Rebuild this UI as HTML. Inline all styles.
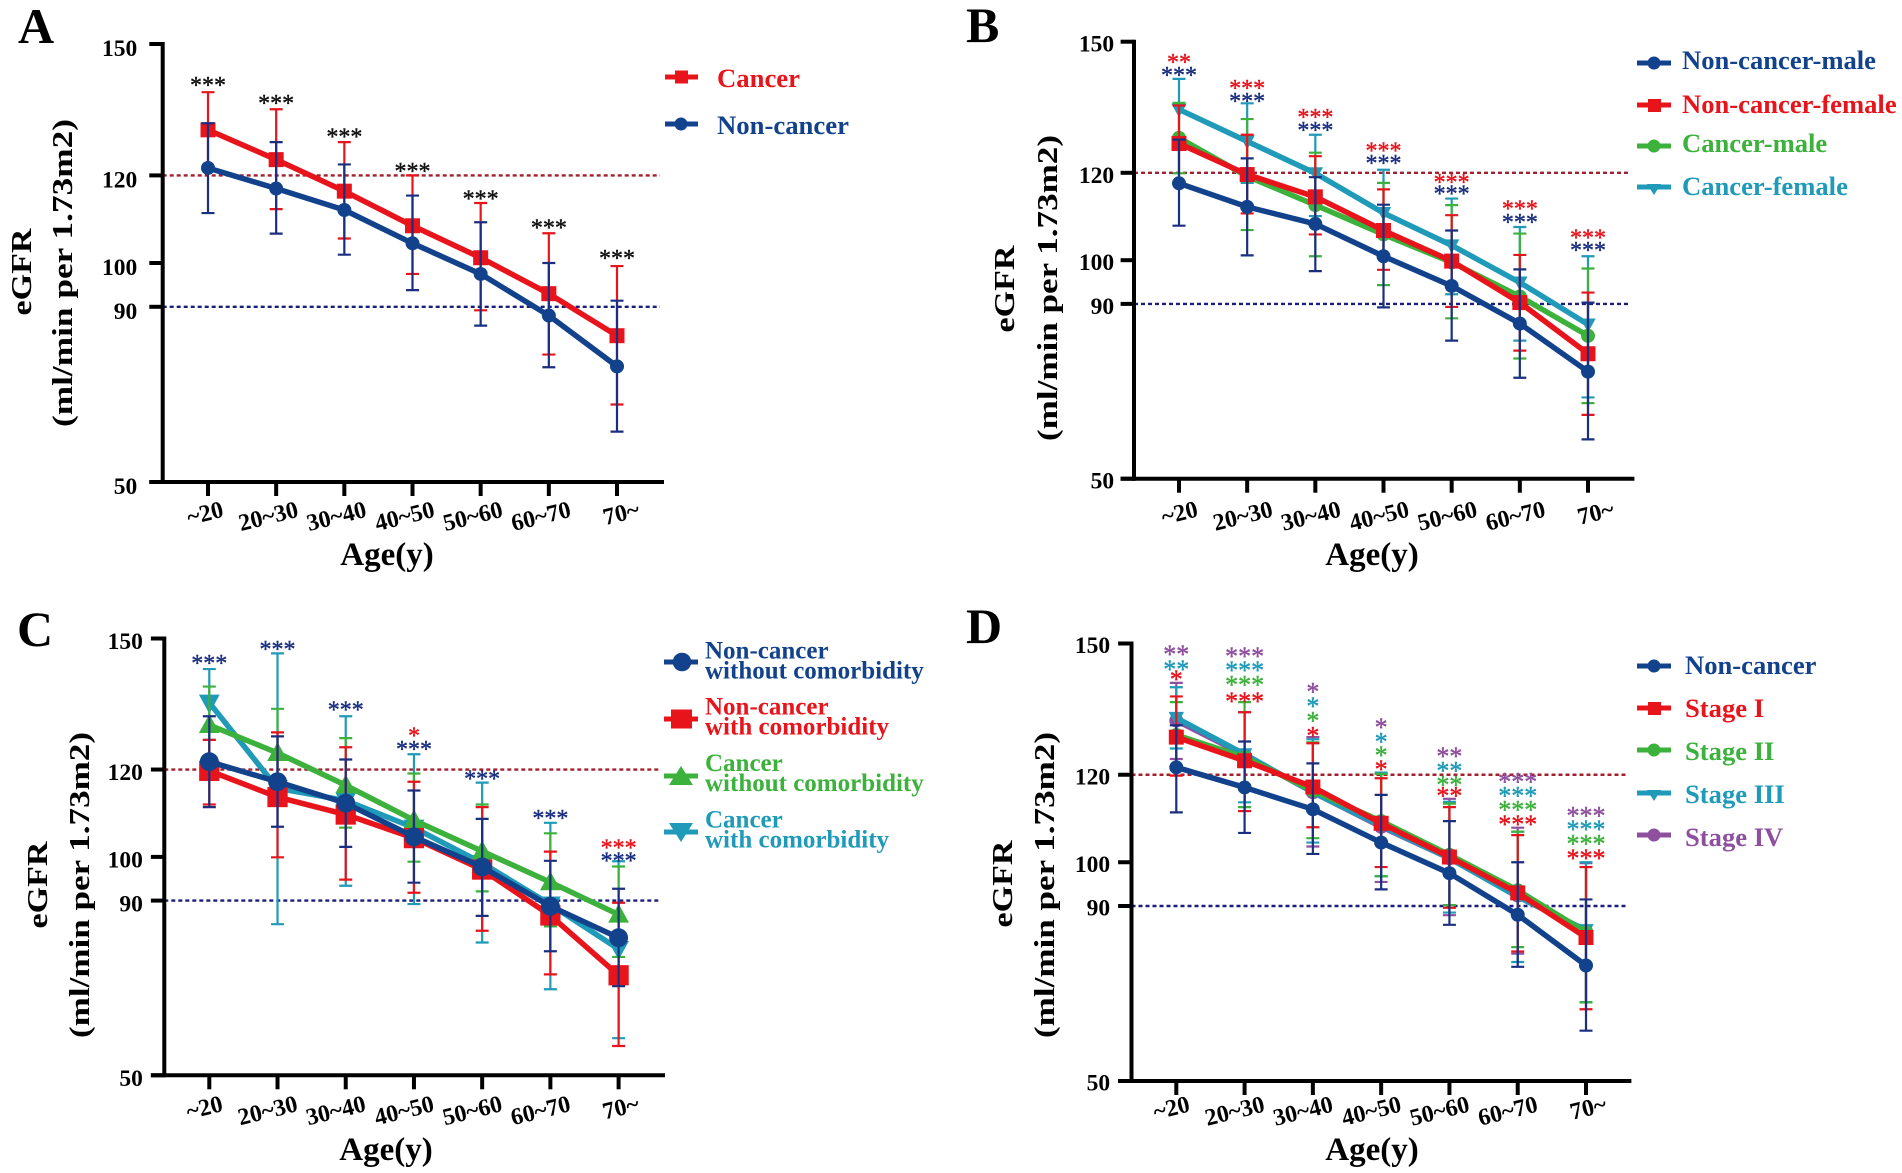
<!DOCTYPE html>
<html lang="en">
<head>
<meta charset="utf-8">
<title>eGFR by age</title>
<style>
html,body{margin:0;padding:0;background:#fff;}
svg{display:block;font-family:"Liberation Serif",serif;font-weight:bold;filter:blur(0.35px);}
</style>
</head>
<body>
<svg id="figure" xmlns="http://www.w3.org/2000/svg" width="1902" height="1173" viewBox="0 0 1902 1173">
  <rect width="1902" height="1173" fill="#fff"/>

  <text x="18" y="43" font-size="50" fill="#000">A</text>
  <text x="966" y="42" font-size="50" fill="#000">B</text>
  <text x="17" y="646" font-size="50" fill="#000">C</text>
  <text x="966" y="643" font-size="50" fill="#000">D</text>

  <g font-size="29" fill="#000" text-anchor="middle">
    <text transform="translate(31 272) rotate(-90)" textLength="87" lengthAdjust="spacingAndGlyphs">eGFR</text>
    <text transform="translate(72 273) rotate(-90)" textLength="308" lengthAdjust="spacingAndGlyphs">(ml/min per 1.73m2)</text>
    <text transform="translate(1014 289) rotate(-90)" textLength="87" lengthAdjust="spacingAndGlyphs">eGFR</text>
    <text transform="translate(1057 288) rotate(-90)" textLength="306" lengthAdjust="spacingAndGlyphs">(ml/min per 1.73m2)</text>
    <text transform="translate(47 885) rotate(-90)" textLength="87" lengthAdjust="spacingAndGlyphs">eGFR</text>
    <text transform="translate(89 885) rotate(-90)" textLength="306" lengthAdjust="spacingAndGlyphs">(ml/min per 1.73m2)</text>
    <text transform="translate(1012 884) rotate(-90)" textLength="87" lengthAdjust="spacingAndGlyphs">eGFR</text>
    <text transform="translate(1054 885) rotate(-90)" textLength="306" lengthAdjust="spacingAndGlyphs">(ml/min per 1.73m2)</text>
  </g>

  <g font-size="33" fill="#000" text-anchor="middle">
    <text x="387" y="565">Age(y)</text>
    <text x="1372" y="565">Age(y)</text>
    <text x="386" y="1160">Age(y)</text>
    <text x="1372" y="1160">Age(y)</text>
  </g>

  <g font-size="26.7">
    <g>
      <line x1="665" x2="698" y1="77" y2="77" stroke="#e8141c" stroke-width="5"/><rect x="675" y="70.5" width="13" height="13" fill="#e8141c"/>
      <text x="717" y="87" fill="#e8141c">Cancer</text>
    </g>
    <g>
      <line x1="665" x2="698" y1="124" y2="124" stroke="#13428c" stroke-width="5"/><circle cx="681" cy="124" r="6.5" fill="#13428c"/>
      <text x="717" y="134" fill="#13428c">Non-cancer</text>
    </g>
  </g>

  <g font-size="26.6">
    <g>
      <line x1="1637" x2="1671" y1="63" y2="63" stroke="#13428c" stroke-width="5"/><circle cx="1654" cy="63" r="6.5" fill="#13428c"/>
      <text x="1682" y="69" fill="#13428c">Non-cancer-male</text>
    </g>
    <g>
      <line x1="1637" x2="1671" y1="105" y2="105" stroke="#e8141c" stroke-width="5"/><rect x="1648" y="99" width="13" height="13" fill="#e8141c"/>
      <text x="1682" y="113" fill="#e8141c">Non-cancer-female</text>
    </g>
    <g>
      <line x1="1637" x2="1671" y1="146" y2="146" stroke="#3cb13c" stroke-width="5"/><circle cx="1654" cy="146" r="6.5" fill="#3cb13c"/>
      <text x="1682" y="152" fill="#3cb13c">Cancer-male</text>
    </g>
    <g>
      <line x1="1637" x2="1671" y1="187" y2="187" stroke="#1f9ab8" stroke-width="5"/><polygon points="1647,184 1661,184 1654,195" fill="#1f9ab8"/>
      <text x="1682" y="195" fill="#1f9ab8">Cancer-female</text>
    </g>
  </g>

  <g font-size="25">
    <g>
      <line x1="664" x2="698" y1="662" y2="662" stroke="#13428c" stroke-width="5"/><circle cx="682" cy="662" r="9.3" fill="#13428c"/>
      <text x="705" y="658.3" fill="#13428c">Non-cancer</text><text x="705" y="678.3" fill="#13428c">without comorbidity</text>
    </g>
    <g>
      <line x1="664" x2="698" y1="719" y2="719" stroke="#e8141c" stroke-width="5"/><rect x="671" y="709.5" width="21" height="19" fill="#e8141c"/>
      <text x="705" y="714.3" fill="#e8141c">Non-cancer</text><text x="705" y="734.3" fill="#e8141c">with comorbidity</text>
    </g>
    <g>
      <line x1="664" x2="698" y1="776" y2="776" stroke="#3cb13c" stroke-width="5"/><polygon points="681,766 693,785 669,785" fill="#3cb13c"/>
      <text x="705" y="771" fill="#3cb13c">Cancer</text><text x="705" y="791" fill="#3cb13c">without comorbidity</text>
    </g>
    <g>
      <line x1="664" x2="698" y1="832" y2="832" stroke="#1f9ab8" stroke-width="5"/><polygon points="669,823 693,823 681,842" fill="#1f9ab8"/>
      <text x="705" y="827.5" fill="#1f9ab8">Cancer</text><text x="705" y="847.5" fill="#1f9ab8">with comorbidity</text>
    </g>
  </g>

  <g font-size="26.6">
    <g>
      <line x1="1637" x2="1671" y1="666" y2="666" stroke="#13428c" stroke-width="5"/><circle cx="1654" cy="666" r="6.5" fill="#13428c"/>
      <text x="1685" y="674" fill="#13428c">Non-cancer</text>
    </g>
    <g>
      <line x1="1637" x2="1671" y1="708" y2="708" stroke="#e8141c" stroke-width="5"/><rect x="1648" y="702" width="13" height="13" fill="#e8141c"/>
      <text x="1685" y="717" fill="#e8141c">Stage I</text>
    </g>
    <g>
      <line x1="1637" x2="1671" y1="750" y2="750" stroke="#3cb13c" stroke-width="5"/><circle cx="1654" cy="750" r="6.5" fill="#3cb13c"/>
      <text x="1685" y="760" fill="#3cb13c">Stage II</text>
    </g>
    <g>
      <line x1="1637" x2="1671" y1="793" y2="793" stroke="#1f9ab8" stroke-width="5"/><polygon points="1647,790 1661,790 1654,801" fill="#1f9ab8"/>
      <text x="1685" y="803" fill="#1f9ab8">Stage III</text>
    </g>
    <g>
      <line x1="1637" x2="1671" y1="835" y2="835" stroke="#8e4f9e" stroke-width="5"/><circle cx="1654" cy="835" r="6.5" fill="#8e4f9e"/>
      <text x="1685" y="846" fill="#8e4f9e">Stage IV</text>
    </g>
  </g>
</svg>

<script>
const categories = ['~20', '20~30', '30~40', '40~50', '50~60', '60~70', '70~'];
const yTickValues = [50, 90, 100, 120, 150];
const yTickLabels = ['50', '90', '100', '120', '150'];
const referenceHigh = 120;
const referenceLow = 90;

// Panel A
const aCancerMean = [130.4, 123.6, 116.4, 108.5, 101.2, 93, 83.4];
const aCancerUpper = [139, 135.1, 127.6, 120, 113.7, 106.8, 99.3];
const aCancerLower = [121.8, 112.3, 105.6, 97.5, 89.2, 79.1, 67.7];
const aNonCancerMean = [121.7, 117, 112.1, 104.5, 97.5, 88, 76.4];
const aNonCancerUpper = [131.9, 127.6, 122.5, 115.4, 109.3, 100, 91.4];
const aNonCancerLower = [111.4, 106.7, 101.9, 93.8, 85.7, 76.2, 61.5];
const aStars = ['***', '***', '***', '***', '***', '***', '***'];
const aStarLevels = [141.4, 137.3, 129.6, 121.8, 115.5, 108.9, 101.9];

// Panel B
const bNonCancerMaleMean = [117.6, 112.2, 108.3, 100.9, 94.1, 85.5, 74.5];
const bNonCancerMaleUpper = [127.6, 123.3, 119, 112.7, 106.8, 97.9, 90.3];
const bNonCancerMaleLower = [107.9, 101.1, 97.5, 89.2, 81.6, 73.1, 59];
const bNonCancerFemaleMean = [126.7, 119.6, 114.5, 106.8, 99.8, 90.3, 78.6];
const bNonCancerFemaleUpper = [135.4, 128.7, 123.8, 116.2, 110.3, 101.2, 92.6];
const bNonCancerFemaleLower = [118, 110.7, 105.9, 97.8, 89.3, 79.3, 64.6];
const bCancerMaleMean = [128, 119.2, 112.6, 105.9, 99.5, 91.7, 82.7];
const bCancerMaleUpper = [136, 132.3, 124.6, 117.7, 112.6, 106.1, 98.1];
const bCancerMaleLower = [119.9, 106.9, 100.9, 94.3, 86.7, 77.5, 67.3];
const bCancerFemaleMean = [134.5, 127.2, 119.9, 110.8, 103.4, 94.9, 85.3];
const bCancerFemaleUpper = [141.5, 135.9, 128.7, 120.7, 114.1, 107.6, 100.9];
const bCancerFemaleLower = [127.6, 117.7, 110.1, 100.9, 92.2, 81.6, 68.6];
const bRedStars = ['**', '***', '***', '***', '***', '***', '***'];
const bRedStarLevels = [146.1, 140.1, 133.5, 125.9, 118.6, 112.6, 105.9];
const bNavyStars = ['***', '***', '***', '***', '***', '***', '***'];
const bNavyStarLevels = [143.1, 137.2, 130.6, 123, 116, 109.5, 103.1];

// Panel C
const cNoComorbidMean = [121.8, 117.2, 112.3, 104.6, 97.7, 88.7, 81.5];
const cNoComorbidUpper = [132.2, 127.6, 122.3, 115.2, 108.7, 99.1, 92.7];
const cNoComorbidLower = [111.4, 106.9, 102.3, 94.1, 86.5, 78.4, 70.4];
const cComorbidMean = [119.7, 113.7, 109.7, 104.3, 97.1, 86.6, 72.9];
const cComorbidUpper = [126.8, 128.5, 125.1, 117.2, 111.4, 101.2, 89.5];
const cComorbidLower = [112, 99.9, 94.8, 91.8, 83.1, 73.1, 56.7];
const cCancerNoComorbidMean = [130.2, 123.8, 116.4, 108.4, 101.3, 94.2, 86.8];
const cCancerNoComorbidUpper = [139, 133.9, 127.2, 119.1, 112, 105.4, 97.8];
const cCancerNoComorbidLower = [122.1, 113.5, 106.7, 98.9, 92.1, 84.1, 77.1];
const cCancerComorbidMean = [135.3, 115.7, 112.9, 106.7, 98.6, 89.1, 78.9];
const cCancerComorbidUpper = [143, 146.6, 132.2, 123.5, 117, 107.8, 99];
const cCancerComorbidLower = [126.8, 84.6, 93.4, 89.2, 80.4, 69.7, 58.5];
const cNavyStars = ['***', '***', '***', '***', '***', '***', '***'];
const cNavyStarLevels = [145.1, 148.4, 134.5, 125.5, 118.7, 109.7, 99.9];
const cRedStars = ['', '', '', '*', '', '', '***'];
const cRedStarLevels = [0, 0, 0, 128.5, 0, 0, 102.9];

// Panel D
const dNonCancerMean = [121.7, 117.1, 112.1, 104.5, 97.5, 88, 76.4];
const dNonCancerUpper = [131.3, 127.6, 122.6, 115.4, 109.4, 100, 91.5];
const dNonCancerLower = [111.4, 106.7, 101.9, 93.8, 85.7, 76.1, 61.5];
const dStage1Mean = [128.6, 123.2, 117.2, 108.9, 101.2, 93, 82.8];
const dStage1Upper = [137.9, 134.3, 127.2, 119.2, 112.6, 106.2, 98.9];
const dStage1Lower = [119.8, 111.7, 108, 98.9, 89.6, 79.6, 66.4];
const dStage2Mean = [129.1, 124, 116.4, 109.4, 101.7, 93.6, 84];
const dStage2Upper = [136.6, 136.6, 127.4, 120.2, 113.4, 107, 98.9];
const dStage2Lower = [121.9, 112.6, 105.5, 96.8, 90.2, 80.6, 68];
const dStage3Mean = [133, 124.7, 116, 108.3, 100.9, 92.1, 84.5];
const dStage3Upper = [140, 134.3, 128.1, 120.5, 113.8, 107, 100];
const dStage3Lower = [126, 113.7, 104.5, 96.8, 88.5, 77.2, 68];
const dStage4Mean = [132.4, 124.5, 116, 108.1, 100.9, 92.4, 84.2];
const dStage4Upper = [141, 134.3, 128.6, 120.2, 114.5, 107.9, 99.8];
const dStage4Lower = [123.6, 111.7, 103.6, 95.5, 87.9, 79.1, 68];
const dPurpleStars = ['**', '***', '*', '*', '**', '***', '***'];
const dPurpleStarLevels = [148.3, 147.9, 139.8, 131.7, 125, 119.2, 111.4];
const dTealStars = ['**', '***', '*', '*', '**', '***', '***'];
const dTealStarLevels = [144.9, 144.7, 136.4, 128.3, 121.7, 116, 108.3];
const dGreenStars = ['', '***', '*', '*', '**', '***', '***'];
const dGreenStarLevels = [0, 141.4, 133.1, 125.2, 118.5, 112.8, 105];
const dRedStars = ['*', '***', '*', '*', '**', '***', '***'];
const dRedStarLevels = [142.6, 137.6, 129.7, 122, 116, 109.5, 101.7];

const RED = '#e8141c', NAVY = '#13428c', GREEN = '#3cb13c', TEAL = '#1f9ab8', PURPLE = '#8e4f9e';
const ERR_NAVY = '#1a2f80';
const SVG_NS = 'http://www.w3.org/2000/svg';
const figure = document.getElementById('figure');

const panels = [
  { id: 'a', axisX: 162.7, y150: 44, y50: 482, xFirst: 208, xLast: 617, dashEnd: 660, axisEnd: 664, markerScale: 1,
    tickGap: 12, tickDy: 12, labelDx: 0, labelDy: 0, starSize: 24,
    series: [
      { key: 'cancer', color: RED, err: RED, marker: 'square', mean: aCancerMean, upper: aCancerUpper, lower: aCancerLower },
      { key: 'non-cancer', color: NAVY, err: ERR_NAVY, marker: 'circle', mean: aNonCancerMean, upper: aNonCancerUpper, lower: aNonCancerLower }
    ],
    stars: [{ key: 'black', color: '#111', labels: aStars, levels: aStarLevels }] },
  { id: 'b', axisX: 1134, y150: 41.7, y50: 478.7, xFirst: 1179, xLast: 1588, dashEnd: 1630, axisEnd: 1634.4, markerScale: 1,
    tickGap: 6.5, tickDy: 10, labelDx: 3.5, labelDy: 3, starSize: 24,
    series: [
      { key: 'cancer-female', color: TEAL, err: TEAL, marker: 'down', mean: bCancerFemaleMean, upper: bCancerFemaleUpper, lower: bCancerFemaleLower },
      { key: 'cancer-male', color: GREEN, err: GREEN, marker: 'circle', mean: bCancerMaleMean, upper: bCancerMaleUpper, lower: bCancerMaleLower },
      { key: 'non-cancer-female', color: RED, err: RED, marker: 'square', mean: bNonCancerFemaleMean, upper: bNonCancerFemaleUpper, lower: bNonCancerFemaleLower },
      { key: 'non-cancer-male', color: NAVY, err: ERR_NAVY, marker: 'circle', mean: bNonCancerMaleMean, upper: bNonCancerMaleUpper, lower: bNonCancerMaleLower }
    ],
    stars: [
      { key: 'red', color: RED, labels: bRedStars, levels: bRedStarLevels },
      { key: 'navy', color: ERR_NAVY, labels: bNavyStars, levels: bNavyStarLevels }
    ] },
  { id: 'c', axisX: 164.3, y150: 638.5, y50: 1075.3, xFirst: 209.3, xLast: 618.6, dashEnd: 661, axisEnd: 665, markerScale: 1.35,
    tickGap: 8, tickDy: 10.7, labelDx: -2, labelDy: 1, starSize: 24,
    series: [
      { key: 'cancer-with-comorbidity', color: TEAL, err: TEAL, marker: 'down', mean: cCancerComorbidMean, upper: cCancerComorbidUpper, lower: cCancerComorbidLower },
      { key: 'cancer-without-comorbidity', color: GREEN, err: GREEN, marker: 'up', mean: cCancerNoComorbidMean, upper: cCancerNoComorbidUpper, lower: cCancerNoComorbidLower },
      { key: 'non-cancer-with-comorbidity', color: RED, err: RED, marker: 'square', mean: cComorbidMean, upper: cComorbidUpper, lower: cComorbidLower },
      { key: 'non-cancer-without-comorbidity', color: NAVY, err: ERR_NAVY, marker: 'circle', mean: cNoComorbidMean, upper: cNoComorbidUpper, lower: cNoComorbidLower }
    ],
    stars: [
      { key: 'navy', color: ERR_NAVY, labels: cNavyStars, levels: cNavyStarLevels },
      { key: 'red', color: RED, labels: cRedStars, levels: cRedStarLevels }
    ] },
  { id: 'd', axisX: 1131.5, y150: 643.5, y50: 1081, xFirst: 1176.3, xLast: 1586, dashEnd: 1627, axisEnd: 1631.4, markerScale: 1,
    tickGap: 8, tickDy: 9.6, labelDx: -2, labelDy: -4.3, starSize: 26,
    series: [
      { key: 'stage-iv', color: PURPLE, err: PURPLE, marker: 'circle', mean: dStage4Mean, upper: dStage4Upper, lower: dStage4Lower },
      { key: 'stage-iii', color: TEAL, err: TEAL, marker: 'down', mean: dStage3Mean, upper: dStage3Upper, lower: dStage3Lower },
      { key: 'stage-ii', color: GREEN, err: GREEN, marker: 'circle', mean: dStage2Mean, upper: dStage2Upper, lower: dStage2Lower },
      { key: 'stage-i', color: RED, err: RED, marker: 'square', mean: dStage1Mean, upper: dStage1Upper, lower: dStage1Lower },
      { key: 'non-cancer', color: NAVY, err: ERR_NAVY, marker: 'circle', mean: dNonCancerMean, upper: dNonCancerUpper, lower: dNonCancerLower }
    ],
    stars: [
      { key: 'purple', color: PURPLE, labels: dPurpleStars, levels: dPurpleStarLevels },
      { key: 'teal', color: TEAL, labels: dTealStars, levels: dTealStarLevels },
      { key: 'green', color: GREEN, labels: dGreenStars, levels: dGreenStarLevels },
      { key: 'red', color: RED, labels: dRedStars, levels: dRedStarLevels }
    ] }
];

function make(tag, attrs, parent) {
  const node = document.createElementNS(SVG_NS, tag);
  Object.keys(attrs).forEach(function (k) { node.setAttribute(k, attrs[k]); });
  parent.appendChild(node);
  return node;
}

function drawMarker(kind, cx, cy, size, color, parent) {
  const h = size / 2;
  if (kind === 'square') {
    return make('rect', { x: cx - h, y: cy - h, width: size, height: size, fill: color }, parent);
  }
  if (kind === 'circle') {
    return make('circle', { cx: cx, cy: cy, r: h, fill: color }, parent);
  }
  if (kind === 'up') {
    return make('polygon', { points: [cx, cy - h * 1.15, cx + h * 1.1, cy + h * 0.85, cx - h * 1.1, cy + h * 0.85].join(' '), fill: color }, parent);
  }
  return make('polygon', { points: [cx - h * 1.1, cy - h * 0.85, cx + h * 1.1, cy - h * 0.85, cx, cy + h * 1.15].join(' '), fill: color }, parent);
}

panels.forEach(function (p) {
  const yScale = function (v) { return p.y50 + (v - 50) * (p.y150 - p.y50) / 100; };
  const xScale = function (i) { return p.xFirst + i * (p.xLast - p.xFirst) / (categories.length - 1); };

  const group = make('g', {}, figure);
  
  

  // reference lines
  const refHigh = make('line', { x1: p.axisX, x2: p.dashEnd, y1: yScale(referenceHigh), y2: yScale(referenceHigh), stroke: '#a3202e', 'stroke-width': 2.4, 'stroke-dasharray': '4 3' }, group);
  
  
  const refLow = make('line', { x1: p.axisX, x2: p.dashEnd, y1: yScale(referenceLow), y2: yScale(referenceLow), stroke: '#1a1f7c', 'stroke-width': 2.4, 'stroke-dasharray': '4 3' }, group);
  
  

  // error bars, then lines and markers per series
  p.series.forEach(function (s) {
    const sg = make('g', {}, group);
    
    
    s.mean.forEach(function (m, i) {
      const x = xScale(i), yu = yScale(s.upper[i]), yl = yScale(s.lower[i]);
      const eb = make('path', { d: 'M' + x + ' ' + yu + 'V' + yl + 'M' + (x - 6.5) + ' ' + yu + 'H' + (x + 6.5) + 'M' + (x - 6.5) + ' ' + yl + 'H' + (x + 6.5), stroke: s.err, 'stroke-width': 2.2, fill: 'none' }, sg);
      
      
    });
    const pts = s.mean.map(function (m, i) { return xScale(i) + ',' + yScale(m); }).join(' ');
    const line = make('polyline', { points: pts, fill: 'none', stroke: s.color, 'stroke-width': 5.5, 'stroke-linejoin': 'round' }, sg);
    
    
    s.mean.forEach(function (m, i) {
      const size = (s.marker === 'square' ? 15 : 14) * p.markerScale;
      const mk = drawMarker(s.marker, xScale(i), yScale(m), size, s.color, sg);
      
      
    });
  });

  // significance stars
  p.stars.forEach(function (row) {
    row.labels.forEach(function (label, i) {
      if (!label) { return; }
      const t = make('text', { x: xScale(i), y: yScale(row.levels[i]) + 0.47 * p.starSize, 'text-anchor': 'middle', 'font-size': p.starSize, fill: row.color, stroke: row.color, 'stroke-width': 0.4, 'font-weight': 'normal' }, group);
      t.textContent = label;
      
      
    });
  });

  // axes
  const yAxis = make('line', { x1: p.axisX, x2: p.axisX, y1: yScale(150) - 2, y2: yScale(50) + 2, stroke: '#000', 'stroke-width': 4 }, group);
  
  
  const xAxis = make('line', { x1: p.axisX - 13.4, x2: p.axisEnd, y1: yScale(50), y2: yScale(50), stroke: '#000', 'stroke-width': 4 }, group);
  
  

  yTickValues.forEach(function (v, i) {
    const tick = make('line', { x1: p.axisX - 13.4, x2: p.axisX, y1: yScale(v), y2: yScale(v), stroke: '#000', 'stroke-width': 4 }, group);
    
    
    const lab = make('text', { x: p.axisX - 13.4 - p.tickGap, y: yScale(v) + p.tickDy, 'text-anchor': 'end', 'font-size': 23.5, fill: '#000' }, group);
    lab.textContent = yTickLabels[i];
    
    
  });

  categories.forEach(function (c, i) {
    const x = xScale(i);
    const tick = make('line', { x1: x, x2: x, y1: yScale(50), y2: yScale(50) + 14, stroke: '#000', 'stroke-width': 4 }, group);
    
    
    const lx = x + p.labelDx + (c.length >= 5 ? -6 : (c === '70~' ? 6 : -1));
    const ly = yScale(50) + p.labelDy + (c.length >= 5 ? 41.8 : 38.8);
    const lab = make('text', { transform: 'translate(' + lx + ' ' + ly + ') rotate(-14)', 'text-anchor': 'middle', 'font-size': 24, fill: '#000' }, group);
    lab.textContent = c;
    
    
  });
});
</script>
</body>
</html>
